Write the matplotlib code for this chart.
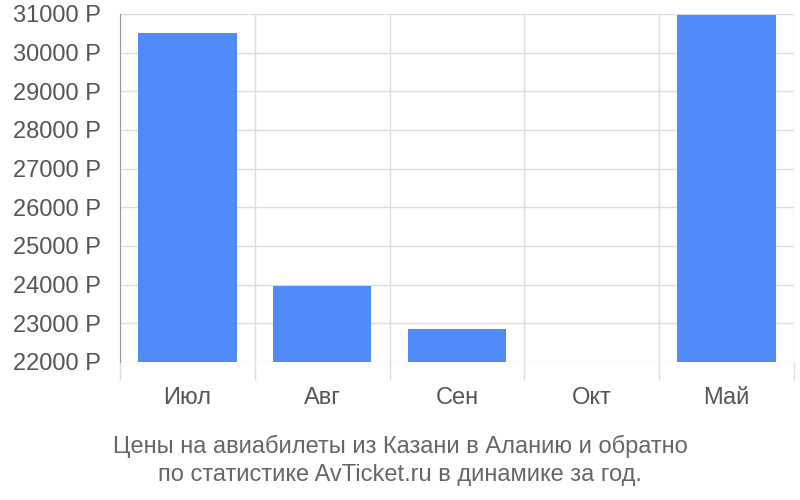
import matplotlib
matplotlib.use("Agg")
import matplotlib.pyplot as plt

months = ["Июл", "Авг", "Сен", "Окт", "Май"]
prices = [30520, 23970, 22850, 22000, 30970]
y_ticks = [22000, 23000, 24000, 25000, 26000, 27000, 28000, 29000, 30000, 31000]
title = "Цены на авиабилеты из Казани в Аланию и обратно\nпо статистике AvTicket.ru в динамике за год."

plt.rcParams["font.family"] = ["Liberation Sans", "DejaVu Sans"]

fig = plt.figure(figsize=(8, 5), dpi=100)
ax = fig.add_axes([120 / 800, 138 / 500, 674 / 800, 348 / 500])

x = range(len(months))
ax.bar(x, [p - 22000 for p in prices], bottom=22000, width=0.73,
       color="#4f8bf9", zorder=3)

ax.set_xlim(-0.5, len(months) - 0.5)
ax.set_ylim(22000, 31000)

ax.set_yticks(y_ticks)
ax.set_yticklabels(["{} Р".format(v) for v in y_ticks])
ax.tick_params(axis="y", length=0, pad=14, labelsize=17, labelcolor="#555555")
ax.grid(axis="y", color="#dddddd", linewidth=1, zorder=0)

bounds = [i - 0.5 for i in range(len(months) + 1)]
ax.set_xticks(bounds)
ax.set_xticklabels([""] * len(bounds))
ax.tick_params(axis="x", which="major", length=13, color="#dddddd", width=1)
ax.set_xticks(list(x), minor=True)
ax.set_xticklabels(months, minor=True)
ax.tick_params(axis="x", which="minor", length=0, pad=18, labelsize=17,
               labelcolor="#555555")
for b in bounds:
    ax.axvline(b, color="#dddddd", linewidth=1, zorder=0)

ax.xaxis.get_major_ticks()[0].tick1line.set_color("#999999")

for s in ["top", "right", "bottom"]:
    ax.spines[s].set_visible(False)
ax.spines["left"].set_color("#999999")

fig.text(0.5, 0.08, title, ha="center", va="center", fontsize=17,
         color="#666666", linespacing=1.35)

fig.savefig("out.png", dpi=100)
